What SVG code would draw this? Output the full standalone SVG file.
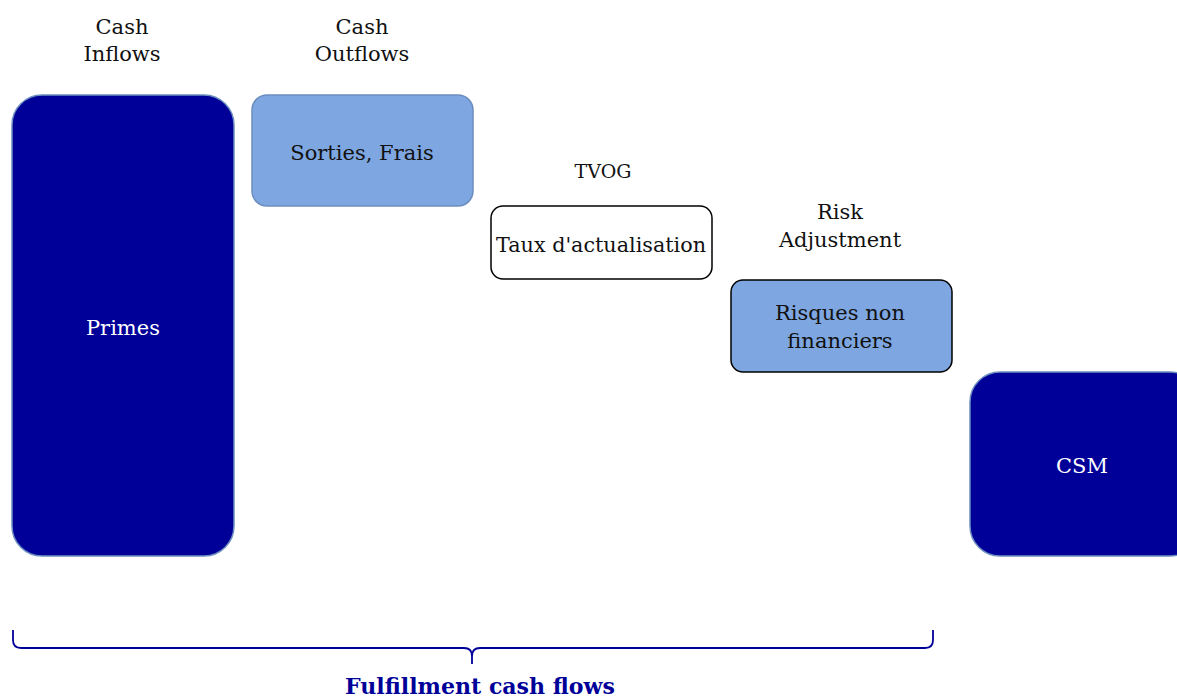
<svg xmlns="http://www.w3.org/2000/svg" width="1177" height="698" viewBox="0 0 1177 698">
  <style>
    text { font-family: "DejaVu Serif", "Liberation Serif", serif; font-size: 21px; text-anchor: middle; }
    .dark { fill: #000099; stroke: #6c8ebf; stroke-width: 1.5; }
    .light { fill: #7ea6e0; stroke: #6c8ebf; stroke-width: 1.5; }
    .lightb { fill: #7ea6e0; stroke: #000000; stroke-width: 1.5; }
    .plain { fill: #ffffff; stroke: #000000; stroke-width: 1.5; }
    .w { fill: #ffffff; }
    .k { fill: #111111; }
  </style>

  <!-- column headings -->
  <g id="headings">
    <text class="k" x="122" y="34">Cash</text>
    <text class="k" x="122" y="61">Inflows</text>
    <text class="k" x="362" y="34">Cash</text>
    <text class="k" x="362" y="61">Outflows</text>
    <text class="k" x="603" y="178" style="font-size:19px">TVOG</text>
    <text class="k" x="840" y="219">Risk</text>
    <text class="k" x="840" y="247">Adjustment</text>
  </g>

  <g id="primes">
    <rect class="dark" x="12" y="95" width="222" height="461" rx="30"/>
    <text class="w" x="123" y="335">Primes</text>
  </g>

  <g id="sorties">
    <rect class="light" x="252" y="95" width="221" height="111" rx="15"/>
    <text class="k" x="362" y="160">Sorties, Frais</text>
  </g>

  <g id="taux">
    <rect class="plain" x="491" y="206" width="221" height="73" rx="12"/>
    <text class="k" x="601" y="252" textLength="210" lengthAdjust="spacingAndGlyphs">Taux d'actualisation</text>
  </g>

  <g id="risques">
    <rect class="lightb" x="731" y="280" width="221" height="92" rx="12"/>
    <text class="k" x="840" y="320">Risques non</text>
    <text class="k" x="840" y="348">financiers</text>
  </g>

  <g id="csm">
    <rect class="dark" x="970" y="372" width="230" height="184" rx="30"/>
    <text class="w" x="1082" y="473">CSM</text>
  </g>

  <!-- brace under the fulfilment items -->
  <g id="connectors">
    <path d="M13 630 V640 Q13 648 21 648 H464 Q472 648 472 656 V664 M472 664 V656 Q472 648 480 648 H925 Q933 648 933 640 V630" fill="none" stroke="#000099" stroke-width="1.8"/>
  </g>

  <g id="fcf">
    <text x="480" y="694" textLength="270" lengthAdjust="spacingAndGlyphs" style="font-weight:bold; fill:#000099; font-size:22px">Fulfillment cash flows</text>
  </g>
</svg>
